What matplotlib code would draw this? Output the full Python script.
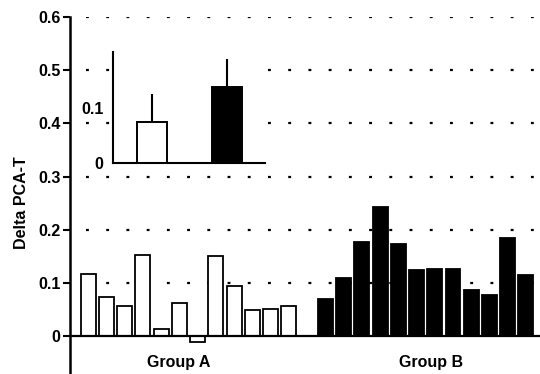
import matplotlib.pyplot as plt
import numpy as np

plt.rcParams['font.family'] = ['Liberation Sans', 'DejaVu Sans']

group_a = [0.117, 0.074, 0.057, 0.152, 0.014, 0.063, -0.011, 0.150, 0.094, 0.050, 0.052, 0.057]
group_b = [0.070, 0.110, 0.177, 0.243, 0.174, 0.125, 0.127, 0.127, 0.086, 0.078, 0.184, 0.115]
group_names = ['Group A', 'Group B']
inset_means = [0.073, 0.137]
inset_err = [0.051, 0.050]
yticks = [0, 0.1, 0.2, 0.3, 0.4, 0.5, 0.6]
ytick_labels = ['0', '0.1', '0.2', '0.3', '0.4', '0.5', '0.6']

fig = plt.figure(figsize=(5.4, 3.74), dpi=100)
ax = fig.add_axes([70 / 540, 0, 470 / 540, 357 / 374])

xa = np.arange(len(group_a))
xb = np.arange(len(group_b)) + len(group_a) + 1

# dotted guide lines behind the bars
ax.hlines(yticks[1:], -0.1, 24.8, colors='black', lw=1.6,
          linestyles=[(0, (1.3, 7.8))], zorder=1)
ax.bar(xa, group_a, width=0.82, color='white', edgecolor='black', lw=1.3, zorder=2)
ax.bar(xb, group_b, width=0.82, color='black', edgecolor='black', lw=1.3, zorder=2)
ax.axhline(0, color='black', lw=1.6, zorder=3)

ax.set_xlim(-1, 24.77)
ax.set_ylim(-0.071, 0.6)
ax.set_xticks([])
ax.set_yticks(yticks)
ax.set_yticklabels(ytick_labels, fontsize=11.5, fontweight='bold')
ax.tick_params(axis='y', direction='out', length=5, width=1.5, pad=2)
for side in ['top', 'right', 'bottom']:
    ax.spines[side].set_visible(False)
ax.spines['left'].set_linewidth(1.8)
ax.set_ylabel('Delta PCA-T', fontsize=11.5, fontweight='bold')
ax.yaxis.set_label_coords(-0.088, 0.479)

ax.text(4.95, -0.05, group_names[0], ha='center', va='center', fontsize=11.5, fontweight='bold')
ax.text(18.8, -0.05, group_names[1], ha='center', va='center', fontsize=11.5, fontweight='bold')

# inset with group means
ins = fig.add_axes([113 / 540, (374 - 163) / 374, 152 / 540, 111 / 374])
ins.set_facecolor('white')
ins.bar([0, 1], inset_means, width=0.4, color=['white', 'black'], edgecolor='black', lw=1.4, zorder=2)
ins.errorbar([0, 1], inset_means, yerr=[[0, 0], inset_err], fmt='none',
             ecolor='black', elinewidth=1.5, capsize=0, zorder=1)
ins.set_xlim(-0.52, 1.5)
ins.set_ylim(0, 0.2)
ins.set_xticks([])
ins.set_yticks([0, 0.1])
ins.set_yticklabels(['0', '0.1'], fontsize=11.5, fontweight='bold')
ins.tick_params(axis='y', length=0, pad=7)
for side in ['top', 'right']:
    ins.spines[side].set_visible(False)
ins.spines['left'].set_linewidth(1.5)
ins.spines['bottom'].set_linewidth(1.5)

fig.savefig('out.png', dpi=100)
